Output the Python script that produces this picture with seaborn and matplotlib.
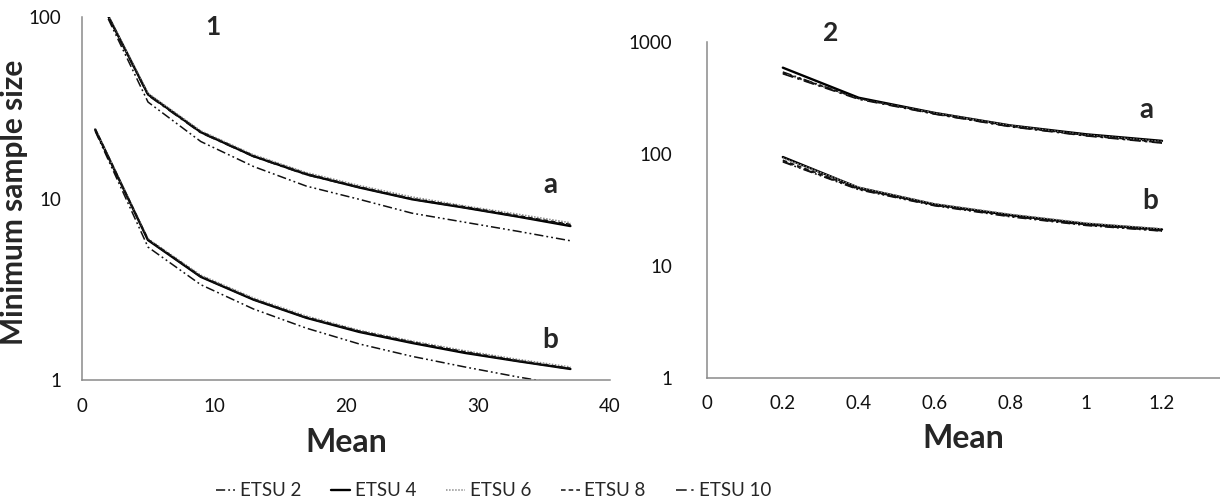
import pandas as pd
import matplotlib
matplotlib.use('Agg')
import matplotlib.pyplot as plt
import seaborn as sns

# series names
methods = ['ETSU 2', 'ETSU 4', 'ETSU 6', 'ETSU 8', 'ETSU 10']

# panel 1 (means 1..37), curve a (upper) and curve b (lower)
mean_1 = [1, 5, 9, 13, 17, 21, 25, 29, 33, 37]
a1_etsu2 = [138, 34.0, 20.6, 15.0, 11.7, 9.9, 8.3, 7.4, 6.6, 5.85]
a1_etsu4 = [140, 37.5, 23.2, 17.1, 13.6, 11.5, 9.9, 8.9, 7.95, 7.05]
a1_etsu6 = [141, 38.0, 23.6, 17.4, 13.9, 11.8, 10.2, 9.1, 8.2, 7.35]
a1_etsu8 = [140, 37.3, 23.3, 17.2, 13.7, 11.6, 10.0, 9.0, 8.05, 7.2]
a1_etsu10 = [139, 37.0, 23.0, 17.0, 13.5, 11.5, 9.9, 8.9, 7.95, 7.15]
b1_etsu2 = [23.5, 5.4, 3.35, 2.46, 1.93, 1.58, 1.35, 1.18, 1.04, 0.93]
b1_etsu4 = [24.0, 5.9, 3.7, 2.77, 2.2, 1.84, 1.6, 1.41, 1.27, 1.15]
b1_etsu6 = [24.3, 6.0, 3.78, 2.83, 2.25, 1.88, 1.64, 1.45, 1.3, 1.18]
b1_etsu8 = [24.1, 5.95, 3.73, 2.79, 2.22, 1.86, 1.62, 1.43, 1.28, 1.16]
b1_etsu10 = [23.9, 5.9, 3.7, 2.77, 2.2, 1.85, 1.61, 1.42, 1.27, 1.15]

# panel 2 (means 0.2..1.2)
mean_2 = [0.2, 0.4, 0.6, 0.8, 1.0, 1.2]
a2_etsu2 = [540, 312, 228, 176, 146, 126]
a2_etsu4 = [590, 318, 233, 180, 150, 131]
a2_etsu6 = [525, 310, 232, 179, 148, 129]
a2_etsu8 = [530, 314, 230, 177, 147, 127]
a2_etsu10 = [520, 308, 227, 175, 145, 125]
b2_etsu2 = [85, 48, 34.5, 27.5, 23.0, 20.5]
b2_etsu4 = [94, 50, 35.5, 28.5, 23.8, 21.2]
b2_etsu6 = [92, 50.5, 36, 29, 24.2, 21.5]
b2_etsu8 = [88, 49, 35, 28, 23.4, 20.8]
b2_etsu10 = [86, 48.5, 34.8, 27.8, 23.2, 20.6]

x1_ticks = [0, 10, 20, 30, 40]
x2_ticks = [0, 0.2, 0.4, 0.6, 0.8, 1.0, 1.2]
x2_labels = ['0', '0.2', '0.4', '0.6', '0.8', '1', '1.2']


def long_table(x, curves):
    rows = []
    for curve, method, vals in curves:
        for xi, v in zip(x, vals):
            rows.append({'Mean': xi, 'Size': v, 'Method': method, 'Curve': curve + method})
    return pd.DataFrame(rows)


df1 = long_table(mean_1, [
    ('a', 'ETSU 2', a1_etsu2), ('a', 'ETSU 4', a1_etsu4), ('a', 'ETSU 6', a1_etsu6),
    ('a', 'ETSU 8', a1_etsu8), ('a', 'ETSU 10', a1_etsu10),
    ('b', 'ETSU 2', b1_etsu2), ('b', 'ETSU 4', b1_etsu4), ('b', 'ETSU 6', b1_etsu6),
    ('b', 'ETSU 8', b1_etsu8), ('b', 'ETSU 10', b1_etsu10)])
df2 = long_table(mean_2, [
    ('a', 'ETSU 2', a2_etsu2), ('a', 'ETSU 4', a2_etsu4), ('a', 'ETSU 6', a2_etsu6),
    ('a', 'ETSU 8', a2_etsu8), ('a', 'ETSU 10', a2_etsu10),
    ('b', 'ETSU 2', b2_etsu2), ('b', 'ETSU 4', b2_etsu4), ('b', 'ETSU 6', b2_etsu6),
    ('b', 'ETSU 8', b2_etsu8), ('b', 'ETSU 10', b2_etsu10)])

sns.set_theme(style="white")
plt.rcParams['font.family'] = ['Lato', 'DejaVu Sans']

colors = {'ETSU 2': '#111111', 'ETSU 4': '#000000', 'ETSU 6': '#8c8c8c',
          'ETSU 8': '#111111', 'ETSU 10': '#111111'}
dashes = {'ETSU 2': (6, 2, 1.2, 2, 1.2, 2), 'ETSU 4': '', 'ETSU 6': (1, 1),
          'ETSU 8': (3, 2), 'ETSU 10': (7, 3, 1.5, 3)}
widths = {'ETSU 2': 1.1, 'ETSU 4': 1.7, 'ETSU 6': 1.1, 'ETSU 8': 1.1, 'ETSU 10': 1.1}

fig = plt.figure(figsize=(12.2, 5.04), dpi=100)
ax1 = fig.add_axes([82 / 1220, 1 - 380 / 504, (610 - 82) / 1220, (380 - 17) / 504])
ax2 = fig.add_axes([707 / 1220, 1 - 378 / 504, (1220 - 707) / 1220, (378 - 42) / 504])

for ax, df in [(ax1, df1), (ax2, df2)]:
    sns.lineplot(data=df, x='Mean', y='Size', hue='Method', style='Method', size='Method',
                 units='Curve', estimator=None, hue_order=methods, style_order=methods,
                 size_order=methods, palette=colors, dashes=dashes, sizes=widths, ax=ax)
    ax.set_yscale('log')
    ax.minorticks_off()
    for side in ['top', 'right']:
        ax.spines[side].set_visible(False)
    for side in ['left', 'bottom']:
        ax.spines[side].set_color('#8a8a8a')
        ax.spines[side].set_linewidth(1.1)
    ax.tick_params(length=0, labelsize=13.5, colors='#111111')
    ax.set_xlabel('Mean', fontsize=23, fontweight='bold', labelpad=9)
    ax.set_ylabel('')

handles, labels = ax1.get_legend_handles_labels()
pairs = [(h, l) for h, l in zip(handles, labels) if l in methods]
ax1.get_legend().remove()
ax2.get_legend().remove()

# panel 1 axes
ax1.set_xlim(0, 40)
ax1.set_ylim(1, 100)
ax1.set_xticks(x1_ticks)
ax1.set_yticks([1, 10, 100])
ax1.set_yticklabels(['1', '10', '100'])
ax1.tick_params(axis='y', pad=15)
ax1.tick_params(axis='x', pad=13)
ax1.set_ylabel('Minimum sample size', fontsize=21.5, fontweight='bold')
ax1.yaxis.set_label_coords(-0.103, 0.49)
ax1.text(9.9, 88, '1', fontsize=19, fontweight='bold', ha='center', va='center')
ax1.text(35.5, 11.9, 'a', fontsize=20, fontweight='bold', ha='center', va='center')
ax1.text(35.5, 1.66, 'b', fontsize=20, fontweight='bold', ha='center', va='center')

# panel 2 axes
ax2.set_xlim(0, 1.353)
ax2.set_ylim(1, 1000)
ax2.set_xticks(x2_ticks)
ax2.set_xticklabels(x2_labels)
ax2.set_yticks([1, 10, 100, 1000])
ax2.set_yticklabels(['1', '10', '100', '1000'])
ax2.tick_params(axis='y', pad=25)
ax2.tick_params(axis='x', pad=12)
ax2.text(0.325, 1200, '2', fontsize=19, fontweight='bold', ha='center', va='center')
ax2.text(1.16, 245, 'a', fontsize=20, fontweight='bold', ha='center', va='center')
ax2.text(1.17, 38, 'b', fontsize=20, fontweight='bold', ha='center', va='center')

fig.legend([p[0] for p in pairs], [p[1] for p in pairs], loc='center', ncol=5,
           bbox_to_anchor=(494 / 1220, 1 - 491 / 504), frameon=False, fontsize=13.5,
           handlelength=1.0, handletextpad=0.25, columnspacing=1.6)

fig.savefig('out.png', dpi=100)
